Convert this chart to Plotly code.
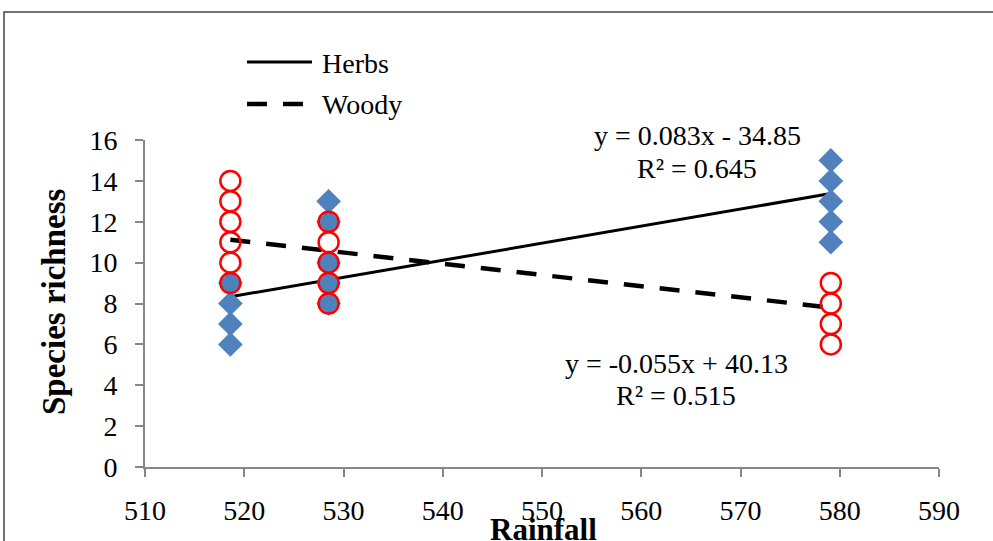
import plotly.graph_objects as go

# ---- data ----
herb_x = [518.6, 518.6, 518.6, 518.6,
          528.5, 528.5, 528.5, 528.5, 528.5,
          579.1, 579.1, 579.1, 579.1, 579.1]
herb_y = [6, 7, 8, 9,
          8, 9, 10, 12, 13,
          11, 12, 13, 14, 15]

woody_x = [518.6, 518.6, 518.6, 518.6, 518.6, 518.6,
           528.5, 528.5, 528.5, 528.5, 528.5,
           579.1, 579.1, 579.1, 579.1]
woody_y = [9, 10, 11, 12, 13, 14,
           8, 9, 10, 11, 12,
           6, 7, 8, 9]

trend_x = [518.6, 579.1]
herb_trend_y = [8.33, 13.38]
woody_trend_y = [11.12, 7.8]

herb_eq = ["y = 0.083x - 34.85", "R² = 0.645"]
woody_eq = ["y = -0.055x + 40.13", "R² = 0.515"]

x_ticks = [510, 520, 530, 540, 550, 560, 570, 580, 590]
y_ticks = [0, 2, 4, 6, 8, 10, 12, 14, 16]

# the page body margin is removed by post_script, so figure px == screen px
W, H = 993, 541
SL, SR, ST, SB = 145, 939, 140, 467      # plot box on screen
L, T = SL, ST
R = W - SR
B = H - SB
PW, PH = SR - SL, SB - ST


def px(xs):
    return (xs - SL) / PW


def py(ys):
    return (SB - ys) / PH


FONT = "Liberation Serif, Times New Roman, serif"
AX = "#868686"
FS = 28

fig = go.Figure()

fig.add_trace(go.Scatter(
    x=trend_x, y=herb_trend_y, mode="lines", name="Herbs",
    line=dict(color="black", width=3), showlegend=False))
fig.add_trace(go.Scatter(
    x=trend_x, y=woody_trend_y, mode="lines", name="Woody",
    line=dict(color="black", width=4.5, dash="20px,16px"), showlegend=False))

fig.add_trace(go.Scatter(
    x=herb_x, y=herb_y, mode="markers", name="Herbs data",
    marker=dict(symbol="diamond", size=19, color="#4F81BD",
                line=dict(width=0)), showlegend=False))
fig.add_trace(go.Scatter(
    x=woody_x, y=woody_y, mode="markers", name="Woody data",
    marker=dict(symbol="circle-open", size=20, color="#FF0000",
                line=dict(width=2.5, color="#FF0000")), showlegend=False))


def txt(xs, ys, s, size=FS, xanchor="center", angle=0):
    return dict(x=px(xs), y=py(ys), xref="paper", yref="paper", text=s,
                xanchor=xanchor, yanchor="middle", textangle=angle,
                showarrow=False, font=dict(family=FONT, size=size, color="black"))


ann = [
    txt(697, 136, herb_eq[0]),
    txt(697, 168, herb_eq[1]),
    txt(676, 363, woody_eq[0]),
    txt(676, 395, woody_eq[1]),
    txt(54, 302, "<b>Species richness</b>", size=33, angle=-90),
    txt(543, 529, "<b>Rainfall</b>", size=31),
    txt(320, 63, "Herbs", xanchor="left"),
    txt(320, 104, "Woody", xanchor="left"),
]

shapes = [
    dict(type="line", xref="paper", yref="paper", x0=px(247), x1=px(312),
         y0=py(62), y1=py(62), line=dict(color="black", width=3)),
    dict(type="line", xref="paper", yref="paper", x0=px(247), x1=px(312),
         y0=py(104), y1=py(104), line=dict(color="black", width=4.5, dash="20px,16px")),
    dict(type="rect", xref="paper", yref="paper", x0=px(4), x1=px(1010),
         y0=py(560), y1=py(12), line=dict(color="#444444", width=1.5),
         fillcolor="rgba(0,0,0,0)", layer="below"),
]

fig.update_layout(
    width=W, height=H,
    margin=dict(l=L, r=R, t=T, b=B, autoexpand=False),
    paper_bgcolor="white", plot_bgcolor="white",
    showlegend=False, hovermode=False,
    annotations=ann, shapes=shapes,
    font=dict(family=FONT, size=FS, color="black"),
)

fig.update_xaxes(
    range=[510, 590], tickvals=x_ticks, ticktext=[str(v) for v in x_ticks],
    showgrid=False, zeroline=False, showline=True, linecolor=AX, linewidth=2,
    ticks="outside", ticklen=8, tickcolor=AX, tickwidth=2,
    ticklabelstandoff=9,
    tickfont=dict(family=FONT, size=FS, color="black"))
fig.update_yaxes(
    range=[0, 16], tickvals=y_ticks, ticktext=[str(v) for v in y_ticks],
    showgrid=False, zeroline=False, showline=True, linecolor=AX, linewidth=2,
    ticks="outside", ticklen=8, tickcolor=AX, tickwidth=2,
    ticklabelstandoff=12,
    tickfont=dict(family=FONT, size=FS, color="black"))

fig.write_html("out.html",
               config={"displayModeBar": False, "staticPlot": True},
               post_script="document.body.style.margin='0';"
                           "document.body.style.overflow='hidden';")
